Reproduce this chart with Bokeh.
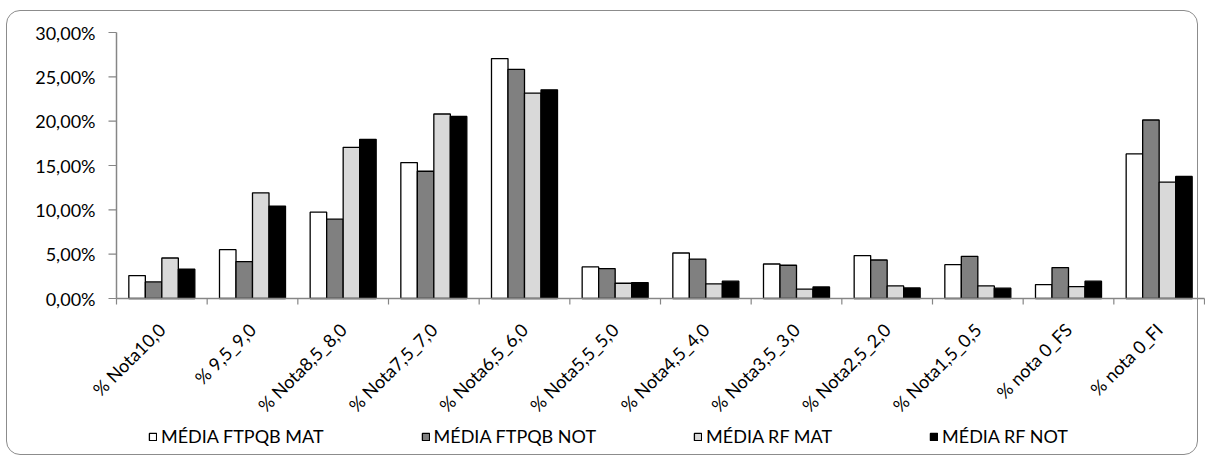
import numpy as np
from bokeh.plotting import figure
from bokeh.models import Range1d, Legend, LegendItem, ColumnDataSource, InlineStyleSheet
from bokeh.core.properties import value
from bokeh.embed import file_html
from bokeh.resources import INLINE

categories = ["% Nota10,0", "% 9,5_9,0", "% Nota8,5_8,0", "% Nota7,5_7,0", "% Nota6,5_6,0",
              "% Nota5,5_5,0", "% Nota4,5_4,0", "% Nota3,5_3,0", "% Nota2,5_2,0",
              "% Nota1,5_0,5", "% nota 0_FS", "% nota 0_FI"]
series_names = ["MÉDIA FTPQB MAT", "MÉDIA FTPQB NOT", "MÉDIA RF MAT", "MÉDIA RF NOT"]
ftpqb_mat = [2.59, 5.51, 9.74, 15.33, 27.06, 3.56, 5.13, 3.89, 4.84, 3.82, 1.57, 16.31]
ftpqb_not = [1.87, 4.16, 8.95, 14.35, 25.83, 3.37, 4.45, 3.75, 4.34, 4.76, 3.49, 20.13]
rf_mat = [4.57, 11.92, 17.05, 20.81, 23.17, 1.72, 1.64, 1.05, 1.42, 1.42, 1.35, 13.12]
rf_not = [3.30, 10.42, 17.95, 20.54, 23.54, 1.80, 1.95, 1.30, 1.19, 1.16, 1.95, 13.76]
y_ticks = [0, 5, 10, 15, 20, 25, 30]
y_tick_labels = ["0,00%", "5,00%", "10,00%", "15,00%", "20,00%", "25,00%", "30,00%"]

series = [ftpqb_mat, ftpqb_not, rf_mat, rf_not]
colors = ["#ffffff", "#808080", "#d9d9d9", "#000000"]
offsets = [-0.273, -0.091, 0.091, 0.273]
FONT = "Lato"
FS = "18px"
AXIS_COLOR = "#868686"

# layout constants (canvas pixels)
W, H = 1205, 459
PLOT_L, PLOT_R, PLOT_T, PLOT_B = 116, 1204, 32, 298
n = len(categories)
pxc = (PLOT_R - PLOT_L) / n          # pixels per category
ymax = 30.0
ppu = (PLOT_B - PLOT_T) / ymax       # pixels per percent

x_range = Range1d(-PLOT_L / pxc, n + (W - PLOT_R) / pxc)
y_range = Range1d(-(H - PLOT_B) / ppu, ymax + PLOT_T / ppu)

p = figure(width=W, height=H, output_backend="svg", toolbar_location=None,
           x_range=x_range, y_range=y_range,
           min_border_left=0, min_border_right=0, min_border_top=0, min_border_bottom=0)
p.grid.visible = False
p.axis.visible = False
p.outline_line_color = None
p.background_fill_color = "white"
p.border_fill_color = "white"

centers = np.arange(n) + 0.5
renderers = []
for vals, col, off in zip(series, colors, offsets):
    src = ColumnDataSource(dict(x=centers + off, top=vals))
    r = p.vbar(x="x", top="top", bottom=0, width=0.182, source=src,
               fill_color=col, line_color="#000000", line_width=1.3)
    renderers.append(r)

# category axis: line, boundary ticks, rotated labels
p.segment(x0=[0], y0=[0], x1=[n], y1=[0], line_color=AXIS_COLOR, line_width=1.5)
bounds = np.arange(n + 1)
p.segment(x0=bounds, y0=0, x1=bounds, y1=-6 / ppu, line_color=AXIS_COLOR, line_width=1.2)
p.text(x=centers, y=np.full(n, -28 / ppu), text=categories, angle=np.pi / 4,
       text_align="right", text_baseline="middle",
       text_font=value(FONT), text_font_size=FS, text_color="#000000")

# value axis: line, ticks, labels
p.segment(x0=[0], y0=[0], x1=[0], y1=[ymax], line_color=AXIS_COLOR, line_width=1.5)
p.segment(x0=np.zeros(len(y_ticks)), y0=y_ticks, x1=np.full(len(y_ticks), -8 / pxc), y1=y_ticks,
          line_color=AXIS_COLOR, line_width=1.2)
p.text(x=np.full(len(y_ticks), -21 / pxc), y=y_ticks, text=y_tick_labels,
       text_align="right", text_baseline="middle",
       text_font=value(FONT), text_font_size=FS, text_color="#000000")

# legend
lg = Legend(items=[LegendItem(label=nm, renderers=[r]) for nm, r in zip(series_names, renderers)],
            location=(148, 12), orientation="horizontal", padding=0, margin=0, spacing=97,
            glyph_width=9, glyph_height=9, label_standoff=4,
            label_text_font=FONT, label_text_font_size=FS, label_text_color="#000000",
            background_fill_alpha=0, border_line_color=None, label_height=18)
p.add_layout(lg, "center")

# rounded chart border
p.stylesheets = [InlineStyleSheet(css="""
:host { position: relative; }
:host::after { content: ''; position: absolute; left: 6px; top: 10px; width: 1192px; height: 445px;
  border: 1.5px solid #8c8c8c; border-radius: 14px; pointer-events: none; box-sizing: border-box; }
""")]

open("out.html", "w").write(file_html(p, INLINE))
